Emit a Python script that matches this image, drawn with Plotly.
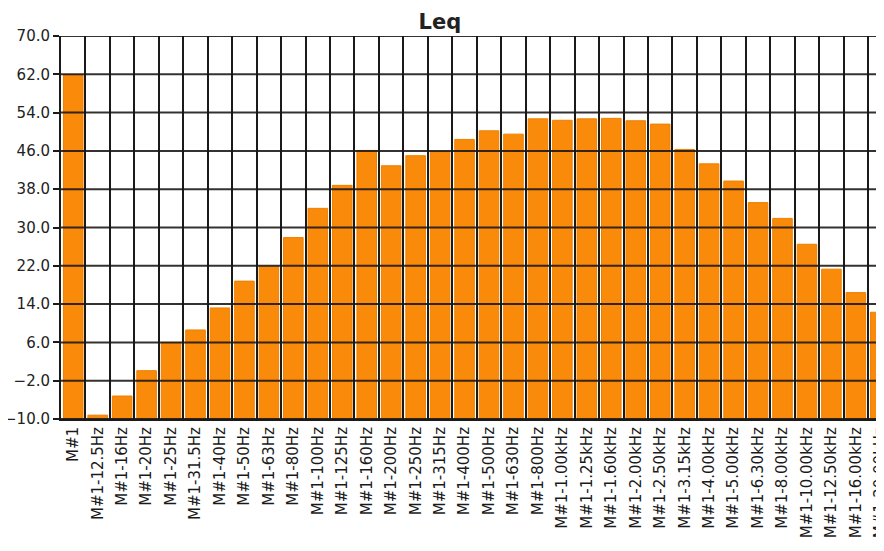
import plotly.graph_objects as go

categories = [
    "M#1", "M#1-12.5Hz", "M#1-16Hz", "M#1-20Hz", "M#1-25Hz", "M#1-31.5Hz",
    "M#1-40Hz", "M#1-50Hz", "M#1-63Hz", "M#1-80Hz", "M#1-100Hz", "M#1-125Hz",
    "M#1-160Hz", "M#1-200Hz", "M#1-250Hz", "M#1-315Hz", "M#1-400Hz", "M#1-500Hz",
    "M#1-630Hz", "M#1-800Hz", "M#1-1.00kHz", "M#1-1.25kHz", "M#1-1.60kHz",
    "M#1-2.00kHz", "M#1-2.50kHz", "M#1-3.15kHz", "M#1-4.00kHz", "M#1-5.00kHz",
    "M#1-6.30kHz", "M#1-8.00kHz", "M#1-10.00kHz", "M#1-12.50kHz", "M#1-16.00kHz",
    "M#1-20.00kHz",
]
leq_values = [
    61.9, -9.2, -5.2, 0.1, 6.0, 8.6,
    13.2, 18.8, 21.9, 27.9, 34.0, 38.8,
    46.1, 42.9, 45.0, 45.8, 48.4, 50.2,
    49.5, 52.7, 52.4, 52.7, 52.8,
    52.3, 51.6, 46.3, 43.3, 39.7,
    35.2, 31.9, 26.5, 21.3, 16.4,
    12.3,
]
y_ticks = [-10, -2, 6, 14, 22, 30, 38, 46, 54, 62, 70]
y_floor = y_ticks[0]

fig = go.Figure()
fig.add_trace(go.Bar(
    x=categories,
    y=[v - y_floor for v in leq_values],
    base=y_floor,
    marker=dict(color="#FA8A0A", line=dict(color="#EE8000", width=1)),
    showlegend=False,
))

for t in y_ticks:
    fig.add_hline(y=t, line=dict(color="rgba(25,20,20,0.88)", width=2), layer="above")

fig.update_layout(
    template="none",
    width=876, height=543,
    margin=dict(l=53, r=0, t=28, b=132),
    paper_bgcolor="white", plot_bgcolor="white",
    bargap=0.2,
    title=dict(text="<b>Leq</b>", x=0.493, xref="container", y=0.975, yanchor="middle",
               font=dict(family="DejaVu Sans", size=21, color="#222")),
    font=dict(family="DejaVu Sans", color="#222"),
)
fig.update_xaxes(
    type="category",
    range=[-0.5, 33.15],
    tickangle=-90,
    tickfont=dict(size=15, color="#1a1a1a"),
    tickson="boundaries",
    ticks="",
    showgrid=True, gridcolor="#1a1a1a", gridwidth=2,
    showline=True, linecolor="#1a1a1a", linewidth=2,
    automargin=False,
    zeroline=False,
    ticklabeloverflow="allow",
)
fig.update_yaxes(
    range=[-10, 70],
    tickvals=y_ticks,
    tickformat=".1f",
    tickfont=dict(size=15, color="#222"),
    ticks="outside", ticklen=6, tickcolor="#1a1a1a", tickwidth=2,
    showgrid=False,
    showline=True, linecolor="#1a1a1a", linewidth=2,
    zeroline=False,
    automargin=False,
)

fig.write_html("out.html")
